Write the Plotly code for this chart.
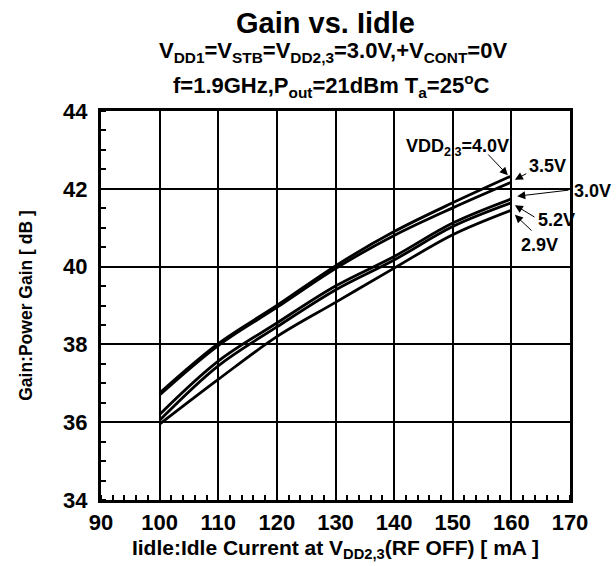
import plotly.graph_objects as go

idle_ma = [100, 110, 120, 130, 140, 150, 160]
gain_4v0 = [36.75, 38.02, 39.00, 40.02, 40.90, 41.64, 42.33]
gain_3v5 = [36.70, 37.97, 38.95, 39.95, 40.80, 41.51, 42.17]
gain_3v0 = [36.20, 37.57, 38.55, 39.50, 40.26, 41.12, 41.74]
gain_5v2 = [36.05, 37.45, 38.45, 39.40, 40.17, 41.03, 41.64]
gain_2v9 = [35.95, 37.10, 38.20, 39.08, 39.96, 40.82, 41.45]

series = [("4.0V", gain_4v0), ("3.5V", gain_3v5), ("3.0V", gain_3v0),
          ("5.2V", gain_5v2), ("2.9V", gain_2v9)]

x_ticks = [90, 100, 110, 120, 130, 140, 150, 160, 170]
y_ticks = [34, 36, 38, 40, 42, 44]

FONT = "Liberation Sans, Arial, sans-serif"

# page geometry (body margin removed by post_script)
W, H = 616, 566
ML, MR, MT, MB = 101, 46, 111, 66
PX0, PX1 = ML, W - MR
PY0, PY1 = MT, H - MB


def xp(px):
    return (px - PX0) / (PX1 - PX0)


def yp(py):
    return (PY1 - py) / (PY1 - PY0)


fig = go.Figure()
for name, g in series:
    fig.add_trace(go.Scatter(x=idle_ma, y=g, mode="lines", name=name,
                             line=dict(color="black", width=2.8, shape="spline", smoothing=1.0),
                             showlegend=False, hoverinfo="skip"))

# labels: (text, head x, head y, tail x, tail y, text x(px), text y(px))
labels = [
    ("VDD<sub>2,3</sub>=4.0V", 159.4, 42.35, 155.8, 42.92, 457, 147),
    ("3.5V", 160.6, 42.23, 162.8, 42.41, 547, 166),
    ("3.0V", 161.0, 41.81, 170.0, 41.97, 592, 191),
    ("5.2V", 160.6, 41.58, 164.2, 41.25, 556, 220),
    ("2.9V", 160.6, 41.33, 163.7, 40.89, 539, 245),
]
for txt, hx, hy, tx, ty, lx, ly in labels:
    fig.add_annotation(x=hx, y=hy, ax=tx, ay=ty, xref="x", yref="y", axref="x", ayref="y",
                       text="", showarrow=True, arrowhead=2, arrowsize=1.6, arrowwidth=1,
                       arrowcolor="black")
    fig.add_annotation(x=xp(lx), y=yp(ly), xref="paper", yref="paper", text="<b>%s</b>" % txt,
                       showarrow=False, xanchor="center", yanchor="middle",
                       font=dict(family=FONT, size=18, color="black"))

title_lines = [
    ("<b>Gain vs. Iidle</b>", 29, 325, 23),
    ("<b>V<sub>DD1</sub>=V<sub>STB</sub>=V<sub>DD2,3</sub>=3.0V,+V<sub>CONT</sub>=0V</b>", 22, 333, 52),
    ("<b>f=1.9GHz,P<sub>out</sub>=21dBm T<sub>a</sub>=25<sup>o</sup>C</b>", 22, 331, 85),
]
for txt, size, cx, cy in title_lines:
    fig.add_annotation(x=xp(cx), y=yp(cy), xref="paper", yref="paper", text=txt,
                       showarrow=False, xanchor="center", yanchor="middle",
                       font=dict(family=FONT, size=size, color="black"))

axis_common = dict(showline=True, linecolor="black", linewidth=3, mirror=True,
                   showgrid=True, gridcolor="black", gridwidth=2, zeroline=False,
                   automargin=False,
                   ticks="", tickfont=dict(family=FONT, size=22, color="black"))

fig.update_xaxes(range=[90, 170], tickvals=x_ticks, ticktext=["<b>%d</b>" % v for v in x_ticks],
                 ticklabelstandoff=1,
                 minor=dict(ticks="inside", dtick=2, ticklen=5, tickwidth=2, tickcolor="black",
                            showgrid=False),
                 title=dict(text="<b>Iidle:Idle Current at V<sub>DD2,3</sub>(RF OFF) [ mA ]</b>",
                            font=dict(family=FONT, size=21, color="black"), standoff=6),
                 **axis_common)
fig.update_yaxes(range=[34, 44], tickvals=y_ticks, ticktext=["<b>%d</b>" % v for v in y_ticks],
                 ticklabelstandoff=6,
                 minor=dict(ticks="inside", dtick=0.5, ticklen=5, tickwidth=2, tickcolor="black",
                            showgrid=False),
                 title=dict(text="<b>Gain:Power Gain [ dB ]</b>",
                            font=dict(family=FONT, size=17.5, color="black"), standoff=26),
                 **axis_common)

fig.update_layout(width=W, height=H, margin=dict(l=ML, r=MR, t=MT, b=MB),
                  plot_bgcolor="white", paper_bgcolor="white", showlegend=False,
                  hovermode=False)

fig.write_html("out.html", config={"displayModeBar": False, "staticPlot": True},
               post_script="document.body.style.margin='0';document.documentElement.style.overflow='hidden';")
